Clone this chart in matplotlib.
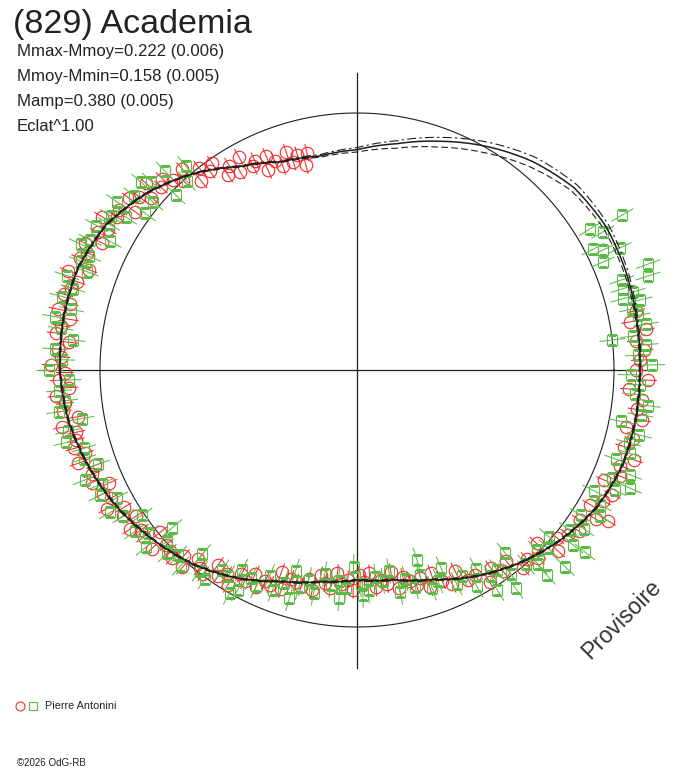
import numpy as np
import matplotlib
matplotlib.use("Agg")
from matplotlib import pyplot as plt

plt.rcParams['font.family'] = ['Liberation Sans', 'DejaVu Sans']

W, H = 688, 768
CX, CY = 357, 370      # centre of the diagram, px from top-left
R0 = 257               # radius of the mean brightness circle, px
RMAX = 1.28

title = "(829) Academia"
stats = ["Mmax-Mmoy=0.222 (0.006)", "Mmoy-Mmin=0.158 (0.005)",
         "Mamp=0.380 (0.005)", "Eclat^1.00"]
observer = "Pierre Antonini"
credit = "\u00a92026 OdG-RB"
stamp = "Provisoire"

# fitted relative brightness (flux / mean), angle counter-clockwise from the right
fit_ang = [0, 10, 20, 30, 40, 50, 60, 70, 80, 90, 100, 110, 120, 130, 140, 150, 160, 170,
           180, 190, 200, 210, 220, 230, 240, 250, 260, 270, 280, 290, 300, 310, 320, 330, 340, 350]
fit_flux = [1.101, 1.106, 1.114, 1.118, 1.103, 1.060, 1.005, 0.947, 0.894, 0.857, 0.845, 0.862,
            0.914, 0.996, 1.070, 1.128, 1.156, 1.160, 1.156, 1.140, 1.109, 1.074, 1.031, 0.988,
            0.934, 0.875, 0.837, 0.817, 0.829, 0.868, 0.926, 0.981, 1.031, 1.074, 1.097, 1.101]
fit_up = [0.003, 0.004, 0.008, 0.012, 0.016, 0.020, 0.018, 0.016, 0.012, 0.008, 0.005, 0.003,
          0.003, 0.003, 0.003, 0.003, 0.003, 0.003, 0.003, 0.003, 0.003, 0.003, 0.003, 0.003,
          0.003, 0.003, 0.003, 0.003, 0.003, 0.003, 0.003, 0.003, 0.003, 0.003, 0.003, 0.003]
fit_lo = [0.003, 0.004, 0.008, 0.012, 0.016, 0.024, 0.027, 0.024, 0.018, 0.009, 0.005, 0.003,
          0.003, 0.003, 0.003, 0.003, 0.003, 0.003, 0.003, 0.003, 0.003, 0.003, 0.003, 0.003,
          0.003, 0.003, 0.003, 0.003, 0.003, 0.003, 0.003, 0.003, 0.003, 0.003, 0.003, 0.003]

# observations, red circles
red_ang = [103, 104, 105.5, 107, 108, 110, 111.5, 113, 114, 116, 117, 119, 120.5, 122, 123.5,
           125, 126.5, 128, 129.5, 131, 132.5, 134, 135.5, 137, 138.5, 140, 141.5, 143, 144.5,
           146, 147.5, 149, 150.5, 152, 153.5, 155, 156.5, 158, 159.5, 161, 162.5, 164, 165.5,
           167, 168.5, 170, 171.5, 173, 174.5, 176, 177.5, 179, 180.5, 182, 183.5, 185, 186.5,
           188, 189.5, 191, 192.5, 194, 195.5, 197, 198.5, 200, 201.5, 203, 204.5, 206, 207.5,
           209, 210.5, 212, 213.5, 215, 216.5, 218, 219.5, 221, 222.5, 224, 225.5, 227, 228.5,
           230, 231.5, 233, 234.5, 236, 237.5, 239, 240.5, 242, 243.5, 245, 246.5, 248, 249.5,
           251, 252.5, 254, 255.5, 257, 258.5, 260, 261.5, 263, 264.5, 266, 267.5, 269, 270.5,
           272, 273.5, 275, 276.5, 278, 279.5, 281, 282.5, 284, 285.5, 287, 288.5, 290, 292,
           294, 296, 298, 300, 302, 304, 306, 308, 310, 312, 314, 316, 318, 320, 322, 324, 326,
           328, 329, 330, 332, 334, 336, 338, 340, 342, 344, 346, 348, 350, 352, 354, 356, 358,
           0, 2, 4, 6, 8, 10, 12]
red_flux = [0.868, 0.822, 0.867, 0.846, 0.890, 0.844, 0.875, 0.903, 0.850, 0.906, 0.889, 0.949,
            0.896, 0.938, 0.911, 0.981, 0.963, 0.996, 0.952, 1.035, 1.000, 1.028, 1.062, 1.043,
            1.096, 1.044, 1.083, 1.109, 1.062, 1.115, 1.108, 1.158, 1.111, 1.142, 1.110, 1.168,
            1.144, 1.164, 1.115, 1.188, 1.143, 1.158, 1.176, 1.147, 1.189, 1.134, 1.163, 1.181,
            1.124, 1.168, 1.151, 1.192, 1.137, 1.161, 1.122, 1.174, 1.144, 1.157, 1.101, 1.169,
            1.119, 1.128, 1.141, 1.106, 1.144, 1.083, 1.108, 1.121, 1.060, 1.098, 1.077, 1.114,
            1.054, 1.074, 1.031, 1.079, 1.044, 1.054, 0.993, 1.059, 1.006, 1.014, 1.026, 0.989,
            1.025, 0.962, 0.984, 0.994, 0.930, 0.966, 0.942, 0.975, 0.913, 0.930, 0.886, 0.931,
            0.894, 0.901, 0.838, 0.903, 0.852, 0.860, 0.872, 0.836, 0.873, 0.811, 0.838, 0.853,
            0.794, 0.835, 0.816, 0.855, 0.799, 0.827, 0.793, 0.849, 0.823, 0.841, 0.798, 0.865,
            0.825, 0.845, 0.869, 0.845, 0.892, 0.842, 0.884, 0.913, 0.869, 0.924, 0.920, 0.973,
            0.930, 0.967, 0.942, 1.007, 0.989, 1.015, 0.971, 1.053, 1.017, 1.040, 1.067, 1.045,
            1.096, 1.140, 1.048, 1.083, 1.106, 1.054, 1.103, 1.091, 1.134, 1.081, 1.107, 1.072,
            1.127, 1.099, 1.115, 1.061, 1.133, 1.087, 1.102, 1.121, 1.091, 1.134, 1.079, 1.111]
red_err = 0.035

# observations, green squares
green_ang = [130, 132, 134, 136, 137.5, 139, 140.5, 142, 143.5, 145, 146.5, 148, 149.5, 151,
             152.5, 154, 155.5, 157, 158.5, 160, 162, 164, 166, 168, 170, 172, 174, 176, 178,
             180, 182, 184, 186, 188, 190, 192, 194, 196, 198, 200, 202, 204, 206, 208, 210,
             212, 214, 216, 218, 220, 220.5, 222, 224, 226, 228, 230, 232, 234, 236, 238, 240,
             240.3, 241.5, 243, 245, 247, 249, 251, 253, 253.5, 255, 257, 259, 261, 263, 265,
             265.5, 267, 269, 271, 271.5, 273, 275, 277, 279, 281, 283, 285, 287, 287.5, 289,
             291, 293, 295, 297, 299, 301, 302.5, 303, 305, 306, 307, 309, 311, 312.8, 313, 315,
             316.6, 317, 319, 321, 321.4, 323, 325, 327, 329, 331, 333, 335, 336.6, 337, 339,
             341, 343, 345, 347, 349, 351, 353, 355, 357, 359, 1, 3, 5, 6.7, 7, 9, 11, 12.5,
             13.9, 15, 15.8, 17, 17.9, 18.8, 20, 23.7, 24.9, 26, 27.1, 29.3, 30.3, 31.2]
green_flux = [1.036, 0.989, 1.074, 0.980, 1.085, 1.113, 1.027, 1.102, 1.025, 1.141, 1.078,
              1.128, 1.121, 1.159, 1.083, 1.155, 1.181, 1.132, 1.154, 1.120, 1.187, 1.150,
              1.182, 1.137, 1.194, 1.165, 1.112, 1.178, 1.147, 1.198, 1.123, 1.162, 1.142,
              1.171, 1.088, 1.150, 1.166, 1.106, 1.117, 1.073, 1.142, 1.087, 1.112, 1.059,
              1.108, 1.072, 1.011, 1.069, 1.030, 1.073, 0.945, 0.993, 1.026, 1.002, 1.025,
              0.936, 0.993, 1.004, 0.940, 0.947, 0.898, 1.000, 0.973, 0.909, 0.929, 0.871,
              0.915, 0.877, 0.818, 0.927, 0.876, 0.838, 0.883, 0.805, 0.843, 0.823, 0.891,
              0.851, 0.767, 0.834, 0.875, 0.859, 0.807, 0.827, 0.792, 0.881, 0.833, 0.873,
              0.835, 0.775, 0.898, 0.880, 0.839, 0.917, 0.899, 0.962, 0.902, 1.015, 0.955,
              0.950, 1.050, 0.993, 0.916, 1.002, 1.087, 1.034, 0.990, 1.114, 1.018, 0.990,
              1.083, 1.135, 1.036, 1.077, 1.039, 1.104, 1.082, 1.035, 1.106, 1.157, 1.080,
              1.137, 1.067, 1.110, 1.095, 1.128, 1.048, 1.117, 1.139, 1.085, 1.103, 1.065,
              1.149, 1.094, 1.127, 1.000, 1.082, 1.139, 1.112, 1.095, 1.135, 1.071, 1.116,
              1.082, 1.190, 1.089, 1.205, 1.045, 1.128, 1.065, 1.032, 1.097, 1.195, 1.060]
green_err = 0.050

RED = '#f42a2a'
GREEN = '#5cbb48'
INK = '#1e1e1e'

fig = plt.figure(figsize=(W / 100, H / 100), dpi=100)

# polar diagram, 1 unit of radius = R0 px
side = 2 * RMAX * R0
ax = fig.add_axes([(CX - RMAX * R0) / W, (H - CY - RMAX * R0) / H, side / W, side / H],
                  projection='polar')
ax.set_ylim(0, RMAX)
ax.set_axis_off()

# cross hair and mean circle
ax.plot([0, 0], [0, 298 / R0], color=INK, lw=0.9)
ax.plot([np.pi, np.pi], [0, 318 / R0], color=INK, lw=0.9)
ax.plot([np.pi / 2, np.pi / 2], [0, 297 / R0], color=INK, lw=0.9)
ax.plot([1.5 * np.pi, 1.5 * np.pi], [0, 298 / R0], color=INK, lw=0.9)
circ = np.linspace(0, 2 * np.pi, 721)
ax.plot(circ, np.ones_like(circ), color=INK, lw=0.8)

# data with radial error bars
for ang, flux, err, col, mk, ms in [(red_ang, red_flux, red_err, RED, 'o', 9.0),
                                    (green_ang, green_flux, green_err, GREEN, 's', 6.8)]:
    th = np.radians(ang)
    f = np.array(flux)
    ax.vlines(th, f - err, f + err, colors=col, lw=0.75)
    ax.plot(th, f, ls='none', marker=mk, ms=ms, mfc='none', mec=col, mew=0.8)

# fitted curve and its envelope, drawn as smooth arcs between the tabulated angles
th_fit = np.radians(fit_ang + [360])
ff = np.array(fit_flux + fit_flux[:1])
up = np.array(fit_up + fit_up[:1])
lo = np.array(fit_lo + fit_lo[:1])
curves = [ax.plot(th_fit, ff, color=INK, lw=1.1)[0],
          ax.plot(th_fit, ff + up, color=INK, lw=0.8, ls=(0, (8, 3, 2, 3)))[0],
          ax.plot(th_fit, ff - lo, color=INK, lw=0.8, ls=(0, (6, 3)))[0]]
for ln in curves:
    ln.get_path()._interpolation_steps = 25

# overlay in pixel coordinates for the texts
ov = fig.add_axes([0, 0, 1, 1])
ov.set_xlim(0, W)
ov.set_ylim(H, 0)
ov.set_axis_off()
ov.patch.set_alpha(0)

ov.text(13, 33, title, fontsize=24.5, color='#222222', va='baseline')
for i, s in enumerate(stats):
    ov.text(17, 56 + 25 * i, s, fontsize=12.1, color='#222222', va='baseline')

ov.plot(20, 706, ls='none', marker='o', ms=6.5, mfc='none', mec=RED, mew=0.8)
ov.plot(33, 706, ls='none', marker='s', ms=5.5, mfc='none', mec=GREEN, mew=0.8)
ov.text(45, 706, observer, fontsize=7.8, color='#222222', va='center')
ov.text(17, 763, credit, fontsize=7.0, color='#222222', va='center')
ov.text(622, 619, stamp, fontsize=16.5, color='#333333', rotation=45,
        ha='center', va='center')

fig.savefig('out.png', dpi=100)
